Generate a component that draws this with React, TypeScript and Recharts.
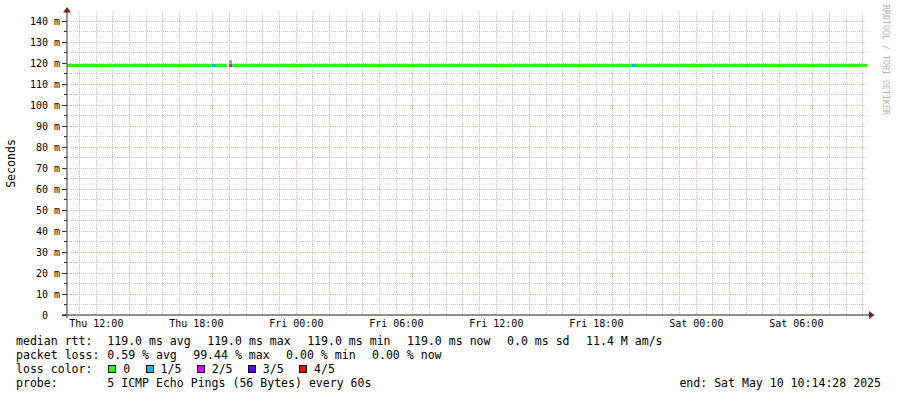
import React from 'react'
import {
  ComposedChart, Line, Area, XAxis, YAxis, CartesianGrid
} from 'recharts'

// hours counted from Thu 00:00
const START = 10.2411 // Thu May 8 10:14:28
const END = 58.2411 // Sat May 10 10:14:28

// median rtt segments, coloured by loss
const SEG_FROM = [10.2411, 18.93, 19.18, 19.96, 20.14, 44.14, 44.38]
const SEG_TO = [18.93, 19.18, 19.84, 20.14, 44.14, 44.38, 58.2411]
const SEG_LOSS = [0, 1, 0, 2, 0, 1, 0]
const SEG_RTT = [118.8, 118.8, 118.8, 118.8, 118.8, 118.8, 118.8]

// smoke (spread of the pings)
const SMOKE_FROM = [19.96]
const SMOKE_TO = [20.14]
const SMOKE_LOW = [119.5]
const SMOKE_HIGH = [121.4]

const LOSS_LABELS = ['0', '1/5', '2/5', '3/5', '4/5']
const LOSS_COLORS = ['#26ff00', '#00b8ff', '#dd00ff', '#5e00ff', '#ff0000']

const X_TICKS = [12, 18, 24, 30, 36, 42, 48, 54]
const X_LABELS = ['Thu 12:00', 'Thu 18:00', 'Fri 00:00', 'Fri 06:00', 'Fri 12:00', 'Fri 18:00', 'Sat 00:00', 'Sat 06:00']
const X_MAJOR_GRID = [12, 15, 18, 21, 24, 27, 30, 33, 36, 39, 42, 45, 48, 51, 54, 57]
const X_MINOR_GRID = [11, 13, 14, 16, 17, 19, 20, 22, 23, 25, 26, 28, 29, 31, 32, 34, 35, 37, 38, 40, 41, 43, 44, 46, 47, 49, 50, 52, 53, 55, 56, 58]

const Y_TICKS = [0, 5, 10, 15, 20, 25, 30, 35, 40, 45, 50, 55, 60, 65, 70, 75, 80, 85, 90, 95, 100, 105, 110, 115, 120, 125, 130, 135, 140]
const Y_MAJOR_GRID = [10, 20, 30, 40, 50, 60, 70, 80, 90, 100, 110, 120, 130, 140]
const Y_MINOR_GRID = [5, 15, 25, 35, 45, 55, 65, 75, 85, 95, 105, 115, 125, 135]

const RTT_LABEL = 'median rtt:'
const RTT_ITEMS = ['119.0 ms avg', '119.0 ms max', '119.0 ms min', '119.0 ms now', '0.0 ms sd', '11.4 M am/s']
const LOSS_LABEL = 'packet loss:'
const LOSS_ITEMS = ['0.59 % avg', '99.44 % max', '0.00 % min', '0.00 % now']
const PROBE_LABEL = 'probe:'
const PROBE_TEXT = '5 ICMP Echo Pings (56 Bytes) every 60s'
const END_TEXT = 'end: Sat May 10 10:14:28 2025'

const MONO = '"DejaVu Sans Mono", monospace'

const rows: Record<string, any>[] = []
SEG_FROM.forEach((from, i) => {
  const key = `loss${SEG_LOSS[i]}`
  rows.push({ t: from, [key]: SEG_RTT[i] })
  rows.push({ t: SEG_TO[i], [key]: SEG_RTT[i] })
})
SMOKE_FROM.forEach((from, i) => {
  rows.push({ t: from, smoke: [SMOKE_LOW[i], SMOKE_HIGH[i]] })
  rows.push({ t: SMOKE_TO[i], smoke: [SMOKE_LOW[i], SMOKE_HIGH[i]] })
})

const usedLoss = Array.from(new Set(SEG_LOSS))

// crisp 1px grid position from the axis scale
const px = (axis: any, v: number) => {
  const s = axis?.scale
  let p = 0
  if (typeof s === 'function') p = s(v)
  else if (s && typeof s.map === 'function') p = s.map(v)
  return Math.floor(p) + 0.5
}

const YTick = (props: any) => {
  const { x, y, payload } = props
  const v = payload.value
  const major = v % 10 === 0
  const yy = Math.floor(y) + 0.5
  return (
    <g>
      <line x1={x + 7 - (major ? 5 : 3)} x2={x + 7} y1={yy} y2={yy} stroke="#333" />
      {major && (
        <text x={x} y={y} dy="0.35em" textAnchor="end" fill="#000"
          style={{ fontFamily: MONO, fontSize: 10 }}>
          {v === 0 ? '0\u00a0\u00a0' : `${v} m`}
        </text>
      )}
    </g>
  )
}

const rowStyle = (top: number): React.CSSProperties => ({
  position: 'absolute', left: 16, top, display: 'flex', alignItems: 'center', height: 14
})

export default function App() {
  return (
    <div style={{ position: 'absolute', left: 0, top: 0, width: 897, height: 397, background: '#fff' }}>
      <ComposedChart width={897} height={397} data={rows}
        margin={{ top: 12, right: 30, bottom: 52, left: 0 }}>
        <CartesianGrid stroke="#c8c8c8" strokeDasharray="1 1"
          horizontalCoordinatesGenerator={({ yAxis }: any) => Y_MINOR_GRID.map(v => px(yAxis, v))}
          verticalCoordinatesGenerator={({ xAxis }: any) => X_MINOR_GRID.map(v => px(xAxis, v))} />
        <CartesianGrid stroke="#f0baba" strokeDasharray="1 1"
          horizontalCoordinatesGenerator={({ yAxis }: any) => Y_MAJOR_GRID.map(v => px(yAxis, v))}
          verticalCoordinatesGenerator={({ xAxis }: any) => X_MAJOR_GRID.map(v => px(xAxis, v))} />
        <XAxis dataKey="t" type="number" domain={[START, END]} allowDataOverflow
          ticks={X_TICKS} tickFormatter={(v) => X_LABELS[X_TICKS.indexOf(v)]}
          tickLine={false} tickSize={0} tickMargin={5} height={30}
          axisLine={{ stroke: '#222', strokeWidth: 1.2 }}
          tick={{ fontFamily: MONO, fontSize: 10, fill: '#000' }} />
        <YAxis type="number" domain={[0, 144.3]} allowDataOverflow width={67}
          ticks={Y_TICKS} tickLine={false} tickSize={0} tickMargin={7}
          axisLine={{ stroke: '#555', strokeWidth: 1.2 }}
          tick={YTick} interval={0}
          label={({ viewBox }: any) => (
            <text x={11} y={viewBox.y + viewBox.height / 2} textAnchor="middle"
              dominantBaseline="central"
              transform={`rotate(-90 11 ${viewBox.y + viewBox.height / 2})`}
              style={{ fontFamily: MONO, fontSize: 11.55, fill: '#000' }}>
              Seconds
            </text>
          )} />
        <Area dataKey="smoke" type="linear" stroke="none" fill="#a0a0a0" fillOpacity={1}
          isAnimationActive={false} dot={false} activeDot={false} />
        {usedLoss.map((l) => (
          <Line key={l} dataKey={`loss${l}`} type="linear" stroke={LOSS_COLORS[l]}
            strokeWidth={3} dot={false} activeDot={false} isAnimationActive={false} />
        ))}
      </ComposedChart>

      <svg width={897} height={397} style={{ position: 'absolute', left: 0, top: 0, pointerEvents: 'none' }}>
        <line x1={62} x2={67} y1={315} y2={315} stroke="#222" strokeWidth={1.2} />
        <line x1={867} x2={870} y1={315} y2={315} stroke="#222" strokeWidth={1.2} />
        <line x1={67} x2={67} y1={9} y2={12} stroke="#555" strokeWidth={1.2} />
        <line x1={67} x2={67} y1={315} y2={318} stroke="#555" strokeWidth={1.2} />
        <polygon points="63,12.5 71,12.5 67,7" fill="#7f1f1f" />
        <polygon points="869,311 869,319 874.5,315" fill="#7f1f1f" />
        <text x={886} y={60} textAnchor="middle" dominantBaseline="central"
          transform="rotate(90 886 60)" textLength={110} lengthAdjust="spacingAndGlyphs"
          style={{ fontFamily: MONO, fontSize: 9, fill: '#b4b4b4' }}>
          RRDTOOL / TOBI OETIKER
        </text>
      </svg>

      <div style={{ position: 'absolute', left: 0, top: 0, fontFamily: MONO, fontSize: 11.55, lineHeight: '14px', whiteSpace: 'pre', color: '#000' }}>
        <div style={rowStyle(334)}>
          <span style={{ width: 91.3 }}>{RTT_LABEL}</span>
          {RTT_ITEMS.map((s) => <span key={s} style={{ marginRight: 16.5 }}>{s}</span>)}
        </div>
        <div style={rowStyle(348)}>
          <span style={{ width: 91.3 }}>{LOSS_LABEL}</span>
          {LOSS_ITEMS.map((s) => <span key={s} style={{ marginRight: 16.4 }}>{s}</span>)}
        </div>
        <div style={rowStyle(362)}>
          <span style={{ width: 92.3 }}>loss color:</span>
          {LOSS_LABELS.map((lab, i) => (
            <React.Fragment key={lab}>
              <span style={{ display: 'inline-block', width: 6, height: 6, border: '1px solid #000', background: LOSS_COLORS[i], marginRight: 7 }} />
              <span style={{ marginRight: 15.3 }}>{lab}</span>
            </React.Fragment>
          ))}
        </div>
        <div style={rowStyle(376)}>
          <span style={{ width: 91.3 }}>{PROBE_LABEL}</span>
          <span>{PROBE_TEXT}</span>
        </div>
        <div style={{ position: 'absolute', left: 560, width: 321, top: 376, height: 14, textAlign: 'right' }}>{END_TEXT}</div>
      </div>
    </div>
  )
}
